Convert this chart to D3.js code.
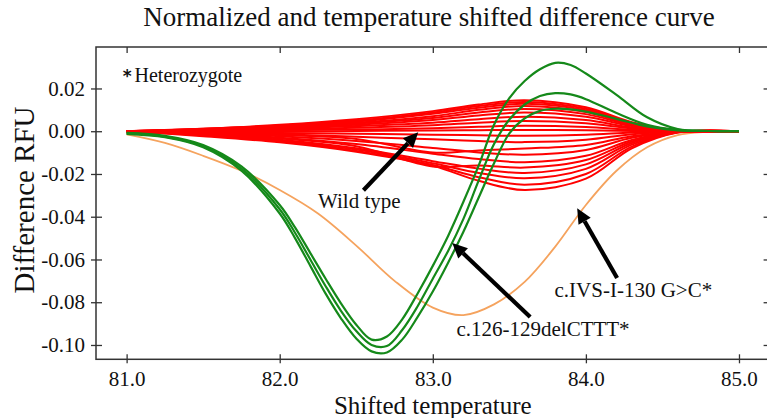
<!DOCTYPE html>
<meta charset="utf-8">
<style>
    body { margin: 0; background: #fff; }
    svg { display: block; font-family: "Liberation Serif", "Times New Roman", serif; }
</style>
<svg id="chart" width="767" height="418"></svg>
<script src="https://cdn.jsdelivr.net/npm/d3@7/dist/d3.min.js"></script>
<script>
    // ---- data ----
    var xTicks = [81.0, 82.0, 83.0, 84.0, 85.0];
    var yTicks = [0.02, 0.00, -0.02, -0.04, -0.06, -0.08, -0.10];

    // wild type curves, sampled at wtTemps
    var wtTemps = [81.0, 81.5, 82.0, 82.5, 83.0, 83.3, 83.6, 84.0, 84.3, 84.6, 85.0];
    var wildType = [
        [0, 0.0012, 0.0030, 0.0056, 0.0094, 0.0125, 0.0145, 0.0112, 0.0042, 0.0004, 0],
        [0, 0.0010, 0.0027, 0.0050, 0.0088, 0.0118, 0.0137, 0.0105, 0.0038, 0.0003, 0],
        [0, 0.0008, 0.0022, 0.0045, 0.0082, 0.0110, 0.0128, 0.0098, 0.0035, 0.0003, 0],
        [0, 0.0011, 0.0025, 0.0040, 0.0070, 0.0100, 0.0118, 0.0090, 0.0031, 0.0002, 0],
        [0, 0.0007, 0.0018, 0.0036, 0.0062, 0.0088, 0.0104, 0.0080, 0.0028, 0.0002, 0],
        [0, 0.0005, 0.0015, 0.0030, 0.0052, 0.0074, 0.0088, 0.0068, 0.0024, 0.0002, 0],
        [0, 0.0004, 0.0012, 0.0024, 0.0040, 0.0056, 0.0068, 0.0052, 0.0018, 0.0001, 0],
        [0, 0.0002, 0.0008, 0.0016, 0.0028, 0.0040, 0.0048, 0.0037, 0.0013, 0.0001, 0],
        [0, 0.0001, 0.0004, 0.0008, 0.0014, 0.0021, 0.0026, 0.0020, 0.0007, 0, 0],
        [0, -0.0001, -0.0002, 0.0001, 0.0003, 0.0005, 0.0006, 0.0004, 0.0001, 0, 0],
        [0, -0.0003, -0.0008, -0.0012, -0.0016, -0.0019, -0.0021, -0.0016, -0.0006, 0, 0],
        [0, -0.0005, -0.0014, -0.0026, -0.0038, -0.0046, -0.0051, -0.0040, -0.0014, -0.0001, 0],
        [0, -0.0006, -0.0018, -0.0036, -0.0100, -0.0090, -0.0081, -0.0064, -0.0023, -0.0002, 0],
        [0, -0.0009, -0.0024, -0.0046, -0.0078, -0.0099, -0.0110, -0.0088, -0.0031, -0.0003, 0],
        [0, -0.0011, -0.0030, -0.0060, -0.0105, -0.0130, -0.0145, -0.0115, -0.0041, -0.0003, 0],
        [0, -0.0013, -0.0034, -0.0070, -0.0165, -0.0160, -0.0170, -0.0135, -0.0048, -0.0004, 0],
        [0, -0.0015, -0.0040, -0.0080, -0.0140, -0.0175, -0.0195, -0.0155, -0.0055, -0.0004, 0],
        [0, -0.0017, -0.0044, -0.0086, -0.0150, -0.0195, -0.0220, -0.0176, -0.0063, -0.0005, 0],
        [0, -0.0020, -0.0048, -0.0092, -0.0158, -0.0215, -0.0250, -0.0200, -0.0072, -0.0005, 0],
        [0, -0.0023, -0.0052, -0.0096, -0.0162, -0.0232, -0.0275, -0.0222, -0.0080, -0.0006, 0]
    ];

    // c.126-129delCTTT (three samples), sampled at delTemps
    var delTemps = [81.0, 81.25, 81.5, 81.75, 82.0, 82.1, 82.2, 82.3, 82.4, 82.5, 82.6, 82.7, 82.8, 82.9, 83.0,
                    83.1, 83.2, 83.3, 83.4, 83.5, 83.6, 83.7, 83.8, 83.9, 84.0, 84.2, 84.4, 84.6, 84.8, 85.0];
    var delCTTT = [
        [-0.0008, -0.0022, -0.0065, -0.0165, -0.0345, -0.0450, -0.0570, -0.0690, -0.0805, -0.0905, -0.0975, -0.0960, -0.0880, -0.0760, -0.0630,
         -0.0490, -0.0330, -0.0160, 0.0030, 0.0155, 0.0235, 0.0290, 0.0320, 0.0310, 0.0270, 0.0170, 0.0065, 0.0010, 0.0001, 0],
        [-0.0010, -0.0025, -0.0070, -0.0175, -0.0365, -0.0475, -0.0600, -0.0725, -0.0840, -0.0935, -0.1000, -0.1005, -0.0930, -0.0820, -0.0690,
         -0.0560, -0.0410, -0.0230, -0.0060, 0.0055, 0.0125, 0.0165, 0.0178, 0.0172, 0.0150, 0.0085, 0.0030, 0.0006, 0.0001, 0],
        [-0.0012, -0.0028, -0.0075, -0.0185, -0.0385, -0.0500, -0.0630, -0.0760, -0.0875, -0.0970, -0.1030, -0.1035, -0.0975, -0.0870, -0.0750,
         -0.0615, -0.0470, -0.0310, -0.0150, -0.0010, 0.0060, 0.0095, 0.0105, 0.0102, 0.0092, 0.0058, 0.0022, 0.0004, 0.0001, 0]
    ];

    // c.IVS-I-130 G>C, sampled at ivsTemps
    var ivsTemps = [81.0, 81.25, 81.5, 81.75, 82.0, 82.25, 82.5, 82.75, 83.0, 83.2, 83.4, 83.6, 83.8, 84.0, 84.2, 84.4, 84.6, 84.8, 85.0];
    var ivs130 = [-0.0015, -0.0055, -0.0115, -0.0185, -0.0275, -0.0385, -0.0535, -0.0700, -0.0825, -0.0860, -0.0810, -0.0705, -0.0540,
                  -0.0345, -0.0185, -0.0075, -0.0018, -0.0003, 0];

    // annotation arrows, in data units
    var labels = ["Wild type", "c.126-129delCTTT*", "c.IVS-I-130 G>C*"];
    var arrowTips = [[82.905, -0.0005], [83.127, -0.0523], [83.943, -0.036]];
    var arrowTails = [[82.547, -0.0276], [83.636, -0.0869], [84.204, -0.0687]];
    var labelAt = [[82.52, -0.036], [83.72, -0.0958], [84.31, -0.0776]];

    // ---- layout ----
    var width = 767, height = 418;
    var plot = { left: 96, right: 769.6, top: 47, bottom: 359.3 };

    var x = d3.scaleLinear().domain([80.8, 85.2]).range([plot.left, plot.right]);
    var y = d3.scaleLinear().domain([0.0394, -0.1067]).range([plot.top, plot.bottom]);

    var svg = d3.select("#chart");

    svg.append("defs").append("clipPath").attr("id", "clip")
        .append("rect")
        .attr("x", plot.left).attr("y", plot.top)
        .attr("width", plot.right - plot.left).attr("height", plot.bottom - plot.top);

    var line = d3.line()
        .x(d => x(d[0]))
        .y(d => y(d[1]))
        .curve(d3.curveCatmullRom.alpha(0.5));

    function pairs(ts, vs) {
        return ts.map((t, i) => [t, vs[i]]);
    }

    var curves = svg.append("g").attr("clip-path", "url(#clip)");

    curves.append("path")
        .attr("d", line(pairs(ivsTemps, ivs130)))
        .attr("fill", "none")
        .attr("stroke", "#f5a35e")
        .attr("stroke-width", 1.8);

    curves.append("g").selectAll("path")
        .data(wildType)
        .join("path")
        .attr("d", vs => line(pairs(wtTemps, vs)))
        .attr("fill", "none")
        .attr("stroke", "#ff0000")
        .attr("stroke-width", 2);

    curves.append("g").selectAll("path")
        .data(delCTTT)
        .join("path")
        .attr("d", vs => line(pairs(delTemps, vs)))
        .attr("fill", "none")
        .attr("stroke", "#15891a")
        .attr("stroke-width", 2.2);

    // ---- axes ----
    var axisColor = "#333";
    var fmtX = d3.format(".1f");
    var fmtY = v => d3.format(".2f")(v).replace("\u2212", "-");

    var gx = svg.append("g")
        .attr("transform", "translate(0," + plot.bottom + ")")
        .call(d3.axisBottom(x).tickValues(xTicks).tickFormat(fmtX).tickSize(4).tickSizeOuter(0).tickPadding(8));
    gx.selectAll(".tick line").attr("y1", -5);

    var gxTop = svg.append("g")
        .attr("transform", "translate(0," + plot.top + ")")
        .call(d3.axisBottom(x).tickValues(xTicks).tickFormat("").tickSize(6).tickSizeOuter(0));

    var gy = svg.append("g")
        .attr("transform", "translate(" + plot.left + ",0)")
        .call(d3.axisLeft(y).tickValues(yTicks).tickFormat(fmtY).tickSize(5).tickSizeOuter(0).tickPadding(6));
    gy.selectAll(".tick line").attr("x1", 6);

    var gyRight = svg.append("g")
        .attr("transform", "translate(" + plot.right + ",0)")
        .call(d3.axisRight(y).tickValues(yTicks).tickFormat("").tickSize(5).tickSizeOuter(0));
    gyRight.selectAll(".tick line").attr("x1", -6);

    [gx, gxTop, gy, gyRight].forEach(g => {
        g.select(".domain").remove();
        g.selectAll(".tick line").attr("stroke", axisColor).attr("stroke-width", 1.3);
        g.selectAll(".tick text")
            .attr("fill", "#111")
            .style("font-size", "21px")
            .style("font-family", "'Liberation Serif', serif");
    });

    svg.append("rect")
        .attr("x", plot.left).attr("y", plot.top)
        .attr("width", plot.right - plot.left).attr("height", plot.bottom - plot.top)
        .attr("fill", "none")
        .attr("stroke", axisColor)
        .attr("stroke-width", 1.5);

    // ---- titles ----
    svg.append("text")
        .attr("x", 429).attr("y", 26)
        .attr("text-anchor", "middle")
        .style("font-size", "27px")
        .attr("fill", "#111")
        .text("Normalized and temperature shifted difference curve");

    svg.append("text")
        .attr("x", x(83.0)).attr("y", 414)
        .attr("text-anchor", "middle")
        .style("font-size", "25px")
        .attr("fill", "#111")
        .text("Shifted temperature");

    svg.append("text")
        .attr("transform", "translate(34,200) rotate(-90)")
        .attr("text-anchor", "middle")
        .style("font-size", "29px")
        .attr("fill", "#111")
        .text("Difference RFU");

    var het = svg.append("text")
        .attr("x", x(80.974)).attr("y", y(0.0229))
        .style("font-size", "20px")
        .attr("fill", "#111");
    het.append("tspan").style("font-weight", "bold").style("font-family", "'DejaVu Sans', sans-serif").style("font-size", "17px").text("*");
    het.append("tspan").attr("dx", 3).text("Heterozygote");

    // ---- annotations ----
    var notes = svg.append("g");
    labels.forEach((lab, i) => {
        var tip = [x(arrowTips[i][0]), y(arrowTips[i][1])];
        var tail = [x(arrowTails[i][0]), y(arrowTails[i][1])];
        var ang = Math.atan2(tip[1] - tail[1], tip[0] - tail[0]);
        var headLen = 15, headHalf = 7;
        var base = [tip[0] - headLen * Math.cos(ang), tip[1] - headLen * Math.sin(ang)];
        notes.append("line")
            .attr("x1", tail[0]).attr("y1", tail[1])
            .attr("x2", base[0]).attr("y2", base[1])
            .attr("stroke", "#000")
            .attr("stroke-width", 4.2);
        var px = -Math.sin(ang), py = Math.cos(ang);
        notes.append("polygon")
            .attr("points", [
                tip,
                [base[0] + px * headHalf, base[1] + py * headHalf],
                [base[0] - px * headHalf, base[1] - py * headHalf]
            ].map(p => p.join(",")).join(" "))
            .attr("fill", "#000");
        notes.append("text")
            .attr("x", x(labelAt[i][0])).attr("y", y(labelAt[i][1]))
            .attr("text-anchor", "middle")
            .style("font-size", "21px")
            .attr("fill", "#111")
            .text(lab);
    });
</script>
